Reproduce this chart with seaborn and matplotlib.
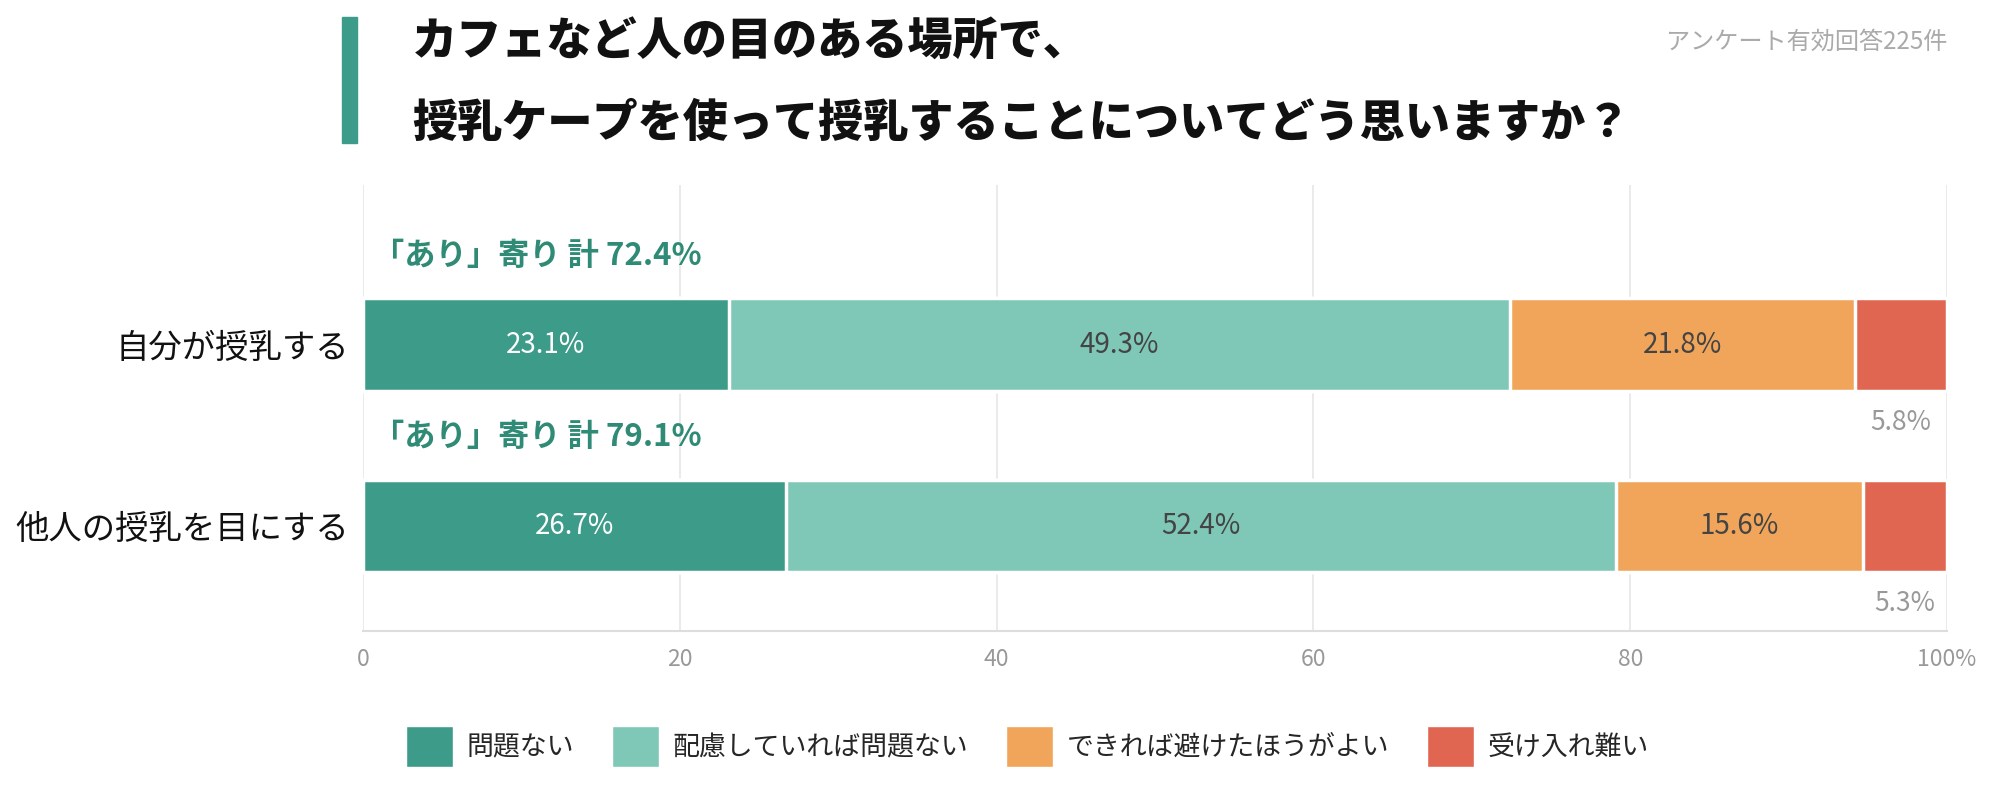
import pandas as pd
import numpy as np
import matplotlib.pyplot as plt
import seaborn as sns
from matplotlib.patches import Patch, Rectangle

# data
questions = ['自分が授乳する', '他人の授乳を目にする']
answers = ['問題ない', '配慮していれば問題ない', 'できれば避けたほうがよい', '受け入れ難い']
mondai_nai = [23.1, 26.7]
hairyo = [49.3, 52.4]
sakeru = [21.8, 15.6]
ukeire = [5.8, 5.3]
colors = ['#3d9c89', '#7fc8b8', '#f0a55a', '#e06651']
label_colors = ['white', '#444444', '#444444', '#999999']

sns.set_theme(style='white')
plt.rcParams['font.family'] = ['Noto Sans CJK JP', 'DejaVu Sans']

series = [mondai_nai, hairyo, sakeru, ukeire]
df = pd.DataFrame({a: v for a, v in zip(answers, series)}, index=questions)
cum = df.cumsum(axis=1)

fig = plt.figure(figsize=(19.99, 7.94), dpi=100)
ax = fig.add_axes([0.1816, 0.2053, 0.7924, 0.5617])

# stacked bars: draw cumulative totals from the outermost segment inwards
for i in reversed(range(len(answers))):
    d = pd.DataFrame({'q': questions, 'v': cum[answers[i]].values})
    sns.barplot(data=d, y='q', x='v', orient='h', color=colors[i], width=0.51,
                edgecolor='white', linewidth=2.5, saturation=1, ax=ax, zorder=3)

# segment labels
for qi, q in enumerate(questions):
    left = 0
    for i, a in enumerate(answers):
        v = df.loc[q, a]
        cx = left + v / 2
        if i < 3:
            ax.text(cx, qi, f'{v}%', ha='center', va='center', fontsize=20,
                    color=label_colors[i], zorder=5)
        else:
            ax.text(cx, qi + 0.43, f'{v}%', ha='center', va='center', fontsize=19,
                    color=label_colors[i], zorder=5)
        left += v
    total = df.loc[q, answers[0]] + df.loc[q, answers[1]]
    ax.text(0.6, qi - 0.49, f'「あり」寄り 計 {total:.1f}%', ha='left', va='center',
            fontsize=22.5, fontweight='bold', color='#2f8a76', zorder=5)

ax.set_xlim(0, 100)
ax.set_ylim(1.58, -0.88)
ax.set_xticks([0, 20, 40, 60, 80, 100])
ax.set_xticklabels(['0', '20', '40', '60', '80', '100%'], fontsize=16.5, color='#999999')
ax.tick_params(axis='x', length=4, color='#dddddd', pad=8)
ax.tick_params(axis='y', length=0, labelsize=24, pad=10)
ax.set_yticks(range(len(questions)))
ax.set_yticklabels(questions, color='#111111')
ax.set_xlabel('')
ax.set_ylabel('')
ax.grid(axis='x', color='#e8e8e8', linewidth=1.3, zorder=0)
ax.set_axisbelow(True)
for s in ['top', 'right', 'left']:
    ax.spines[s].set_visible(False)
ax.spines['bottom'].set_color('#dddddd')
ax.spines['bottom'].set_linewidth(1.5)

# title block
fig.patches.append(Rectangle((0.171, 0.82), 0.0075, 0.158, transform=fig.transFigure,
                             color='#3d9c89', zorder=1))
fig.text(0.206, 0.947, 'カフェなど人の目のある場所で、', fontsize=32.5, fontweight=900,
         color='#111111', va='center')
fig.text(0.206, 0.845, '授乳ケープを使って授乳することについてどう思いますか？', fontsize=32.5,
         fontweight=900, color='#111111', va='center')
fig.text(0.974, 0.947, 'アンケート有効回答225件', fontsize=17.4, color='#aaaaaa',
         ha='right', va='center')

handles = [Patch(facecolor=c, edgecolor='white', label=a) for c, a in zip(colors, answers)]
fig.legend(handles=handles, loc='center', bbox_to_anchor=(0.514, 0.06), ncol=4,
           frameon=False, fontsize=19.4, handlelength=1.75, handleheight=1.95,
           columnspacing=1.4, handletextpad=0.5)

fig.savefig('out.png', dpi=100)
